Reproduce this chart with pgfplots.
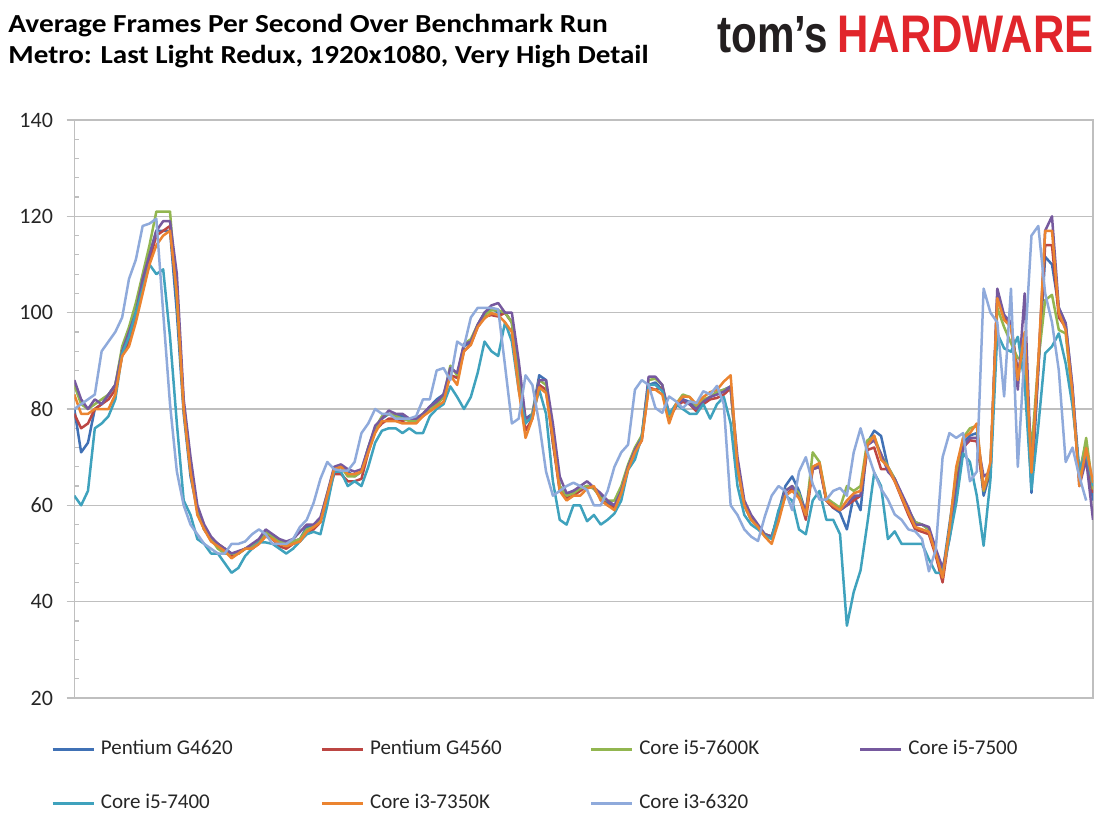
\documentclass[border=0pt]{standalone}
\usepackage{pgfplots}
\pgfplotsset{compat=1.18}
\usepackage{pgfplotstable}
\usepackage{fontspec}
\setmainfont{Carlito}
\newfontfamily\logofont{Liberation Sans}
\definecolor{cB}{HTML}{4071B5}
\definecolor{cR}{HTML}{BC4643}
\definecolor{cG}{HTML}{92B650}
\definecolor{cP}{HTML}{76599E}
\definecolor{cT}{HTML}{3FA2BD}
\definecolor{cO}{HTML}{EB8430}
\definecolor{cL}{HTML}{8FAADB}
\definecolor{gridc}{HTML}{BFBFBF}
\definecolor{logored}{HTML}{E1252B}
\definecolor{logoblk}{HTML}{231F20}
\definecolor{txt}{HTML}{262626}
\pgfplotstableread{
i B R G P T O L
0 80 79 85 86 62 83 80
1 71 76 81 82 60 79 81
2 73 77 80 80 63 79 82
3 80 80 81 82 76 80 83
4 81 81 82 81 77 80 92
5 83 82 83 83 78.5 80 94
6 85 84 85 85 82 83 96
7 92 91 93 92 91.5 91 99
8 96 94 97 96 95 93 107
9 100 99 102 100 100 98 111
10 106 105 108 107 105 104 118
11 112 111 114 112 110 110 118.5
12 117 116 121 117 108 114 119.5
13 117 117 121 119 109 116 100
14 117 118 121 119 95 117 81
15 100 104 103 108 77 104 67
16 79 81 80 82 61 80 60
17 66 68 67 70 58 67 56
18 59 59 59 60 53 58 54
19 55 55 55 56 52 55 52
20 53 53 53 53.5 50 52.5 51
21 52 52 51 52 50 51.5 50
22 51 51 50 51 48 50.5 50
23 50 49.5 50 50 46 49 52
24 50 50 50 50.5 47 50 52
25 51 51 51 51 49.5 51 52.5
26 51.5 51 51.5 52 51 51 54
27 52.5 52 52.5 53 52.3 52 55
28 54 54 54.5 55 52.3 53.5 54
29 53.5 53 53.5 54 52 53 52
30 52.5 51.5 52.5 53 51 52 52
31 52 51 52 52.5 50 51.5 52
32 52.5 52 52.5 53 51 52 53
33 53 52.5 53 54.5 52.5 52.5 55.5
34 55.5 54.5 55 56 54 54.5 57
35 55.5 55 55.5 56 54.5 55.5 60.5
36 57 56.5 57 57.5 54 56.5 65.5
37 62 61.5 62.5 62.5 60 62 69
38 67.5 66.5 67.5 68 67 67.5 67.5
39 68 66.5 68 68.5 67 68 67.2
40 67 65 66 67.5 64 66.5 67.2
41 66 65 66 67 65 66.5 69
42 67 65.5 67 67.5 64 67 75
43 72 71 72 72 68 71 77
44 76 75.5 76 76.5 73 75 80
45 78 77 78.5 78 75.5 77.5 79
46 79 78 79 79.7 76 77.5 79
47 78.5 78 78.5 79 76 77.5 78
48 78.5 77.5 78 79 75 77 78
49 78 78 77.5 78 76 77 78
50 78 78 77.5 78 75 77 78.5
51 79 78.5 79 79 75 78.5 82
52 80.5 80 80 80.5 78.5 79.5 82
53 82 81 81 81.5 80 80.5 88
54 83 82.5 82.5 83 81 81.5 88.5
55 87 87 89 88.5 84.7 87 86
56 86.5 86.5 87 87.5 82.5 85 94
57 93 92 93.5 93.5 80 92 93
58 94 93.5 94.5 94 82.5 93.3 99
59 97.5 97 97.5 97.5 87.5 97 101
60 100 99.2 99.5 100 94 98.8 101
61 101 99.5 100.5 101.5 92 99.9 101
62 100 99.2 100.5 102 91 99.5 100.7
63 100 100 100 100 98 98 89
64 98 98 98 100 94 96 77
65 85 86 86 90 84 84 78
66 78 75.5 77 78 77 74 87
67 79 78 79 78.5 78.5 78 85
68 87 85 86 86 84 84.5 77
69 86 84 85 86 79 83.3 67
70 73 73 74 77 65 74 62
71 64 63 64 66 57 63 63
72 62 61.5 62 62.5 56 61 64
73 63 62 62.5 63 60 62 64.7
74 63.5 63 63.5 64 60 62 64
75 64 64 64 65 56.7 63.5 63.2
76 63.5 63.5 63.5 63.7 58 64 60
77 62 61.5 61.5 62.5 56 61 60
78 60.5 60 61 61 57 60 63
79 59.5 59.5 61 60 58.3 59 68
80 63 62.5 64 63 61 62.5 71
81 68 67.5 68.5 68 67.4 67.5 72.6
82 71.5 71 72 71.5 69.5 71 84
83 74 73.5 74.5 74 74.3 73.5 86
84 85 84.5 86 86.7 85 84 85
85 85.5 84 86.3 86.7 85 84 80.2
86 84 84.5 85 85 83.7 83 79.2
87 78.5 78 78.5 79 79 77 82.6
88 80.5 80.5 81 80.5 81 81 81.6
89 82 81.5 83 82 80 82.6 80.2
90 81.5 81 82.5 81 79 82.5 81.6
91 80 79.5 80.5 80 79 81 81.2
92 81.5 81 82 81.5 81 82.5 83.7
93 82.5 82 82.5 82.5 78 83.5 83
94 83.5 82.3 83.5 83 81 84 84.8
95 84 83 84 83.6 82.5 85.7 81
96 84.7 84.3 84.5 84.7 77 87 60
97 68 68 68 70 64 68 58
98 60 60 60 61 58 60 55
99 57.5 57 57 58 56 57 53.5
100 55.5 55.5 55.5 56 55 55.5 52.6
101 54 54 54 54 53.7 53.5 57.7
102 53.5 53.5 53.5 53.5 53 52 62
103 58.5 57.5 58 58 59 56.6 64
104 64 62 63 63 62 62 63
105 66 63.5 64 64 61 63 59
106 63 62 62.5 61.5 55 61.5 67
107 58.5 57 58 59 54 58 70
108 68 67.5 71 67.5 61 68 64.4
109 68.5 68 69 68 63 68.8 61.2
110 61 61 61.5 61 57 61 61.2
111 59.5 59.5 60.5 60 57 60 63
112 58.5 59 59.5 59 54 59 63.6
113 55 60 64 60 35 61 62
114 62 61 63 62 42 62.5 71
115 59 62 64 62 46.5 63 76
116 73 71.5 73.5 72.5 56.3 72.5 71
117 75.5 72 74.3 73.5 66.8 74.5 66.8
118 74.4 67.5 70.5 70.7 64 69.5 63.4
119 68 67.5 68 67 53 68 61.2
120 65.5 65 65.5 65.5 54.6 65 58.1
121 62 61.5 62 62.5 52 61.8 57
122 59 58 59 59.5 52 58.5 55
123 56.5 55 56.5 56 52 55.5 54.6
124 56 54.5 56 56 52 55 53
125 55 54 55 55.5 48.8 54.5 46.3
126 50 49.5 50.5 51 46 50 50.8
127 46 44 45.5 47 46 45 70
128 56 54 55 53 53 55 75
129 66 65 67 63 60.5 68 74
130 73 72 74 72 70.8 74 75
131 74.5 73.5 76 74 69 75 65
132 75 73.3 76.5 74 62 77 67
133 62 63 63 66 51.6 63.3 105
134 67 67 68 67 65.4 69 100
135 103 103 101 105 95.7 103 98
136 99.5 99 97 99.5 92.6 98.5 82.6
137 97.5 97.5 93.7 98 91.9 97 105
138 87.5 87.4 90.5 84 95 86 68
139 93 94 91 104 85.4 96 92
140 62.6 65.5 71 66 63.3 66.8 116
141 88 89 90 89 76.4 90 118
142 111.6 114 102.6 117 91.6 117 104
143 110 114 103.7 120 93 117 98
144 101 99 96.4 101 95.7 100 88
145 97.8 97 95.7 97.8 89.5 96.4 69
146 84 83 82 84.7 80.6 83.3 72
147 66.8 65.4 66 64 67.4 64 66
148 73 70.9 74 69.5 70.9 71.9 61
149 61 62.6 63.3 57 64 64.7 nan
}\data
\begin{document}
\begin{tikzpicture}
\path[use as bounding box] (0,0) rectangle (554pt,-415pt);
\node[anchor=base west, inner sep=0pt, font=\fontsize{13}{15}\selectfont\bfseries] at (4pt,-16.4pt) {\scalebox{1.13}[1]{Average Frames Per Second Over Benchmark Run}};
\node[anchor=base west, inner sep=0pt, font=\fontsize{13}{15}\selectfont\bfseries] at (4pt,-31.6pt) {\scalebox{1.118}[1]{Metro: Last Light Redux, 1920x1080, Very High Detail}};
\node[anchor=south west, inner sep=0pt, text=logoblk] at (358.5pt,-26.5pt) {\resizebox{55.5pt}{18pt}{\logofont\bfseries tom’s}};
\node[anchor=south west, inner sep=0pt, text=logored] at (418.5pt,-26.5pt) {\resizebox{128pt}{18.2pt}{\logofont\bfseries HARDWARE}};
\begin{axis}[
  at={(37.15pt,-349pt)}, anchor=south west,
  scale only axis, width=509.35pt, height=289pt,
  xmin=0, xmax=149, ymin=20, ymax=140,
  xtick=\empty,
  ytick={20,40,...,140}, minor y tick num=4, ytick pos=left,
  ymajorgrids, grid style={gridc, line width=0.6pt},
  axis line style={gridc, line width=0.6pt},
  tick align=outside, major tick length=3.8pt, minor tick length=2.6pt,
  tick style={gridc, line width=0.6pt},
  minor tick style={xshift=2.6pt},
  /pgf/number format/assume math mode=true,
  every tick label/.append style={font=\fontsize{11}{13}\selectfont},
  yticklabel style={font=\fontsize{11}{13}\selectfont, text=txt, inner sep=0pt, xshift=-6.7pt},
  legend columns=4,
  legend style={at={(-0.02287,-0.0701)}, anchor=north west, draw=none, fill=none,
    inner sep=0pt, row sep=16.5pt,
    nodes={inner sep=0pt, text height=8pt, text depth=2.5pt, font=\fontsize{10.5}{12}\selectfont, text=txt},
    /tikz/every odd column/.append style={column sep=3pt}},
  legend image code/.code={\draw[#1] (0pt,0pt) -- (20.5pt,0pt);},
  every axis plot/.append style={line width=1.25pt, line join=round},
]
\addplot[cB] table[x=i,y=B]{\data};
\addlegendentry{\makebox[109.85pt][l]{Pentium G4620}}
\addplot[cR] table[x=i,y=R]{\data};
\addlegendentry{\makebox[109.85pt][l]{Pentium G4560}}
\addplot[cG] table[x=i,y=G]{\data};
\addlegendentry{\makebox[109.85pt][l]{Core i5-7600K}}
\addplot[cP] table[x=i,y=P]{\data};
\addlegendentry{\makebox[109.85pt][l]{Core i5-7500}}
\addplot[cT] table[x=i,y=T]{\data};
\addlegendentry{\makebox[109.85pt][l]{Core i5-7400}}
\addplot[cO] table[x=i,y=O]{\data};
\addlegendentry{\makebox[109.85pt][l]{Core i3-7350K}}
\addplot[cL] table[x=i,y=L]{\data};
\addlegendentry{\makebox[109.85pt][l]{Core i3-6320}}
\end{axis}
\end{tikzpicture}
\end{document}
